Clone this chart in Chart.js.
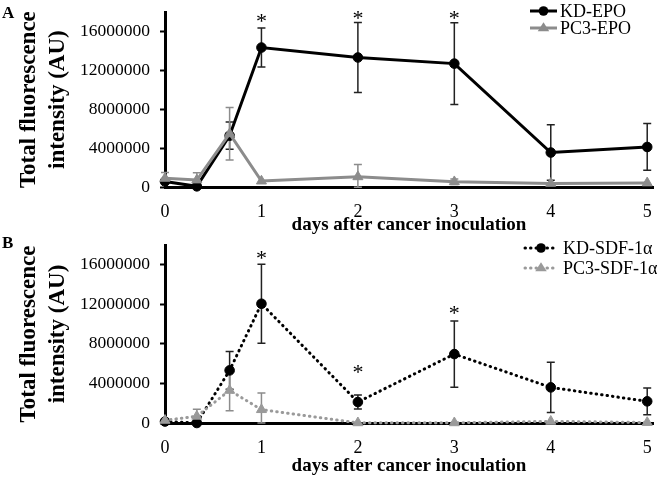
<!DOCTYPE html>
<html><head><meta charset="utf-8">
<script src="https://cdn.jsdelivr.net/npm/chart.js@4.4.0/dist/chart.umd.min.js"></script>
<style>
html,body{margin:0;padding:0;background:#fff;}
#wrap{position:relative;width:663px;height:477px;background:#fff;}
canvas{position:absolute;left:0;}
</style></head><body>
<div id="wrap">
<canvas id="cA" width="663" height="237" style="top:0;width:663px;height:237px"></canvas>
<canvas id="cB" width="663" height="240" style="top:237px;width:663px;height:240px"></canvas>
</div>
<script>
// ---------- data ----------
const days = [0, 0.33, 0.67, 1, 2, 3, 4, 5];
const xTickValues = [0, 1, 2, 3, 4, 5];
const yTickValues = [0, 4000000, 8000000, 12000000, 16000000];
const panelLabels = ['A', 'B'];
const xTitle = 'days after cancer inoculation';
const yTitle = ['Total fluorescence', 'intensity (AU)'];

const namesA = ['KD-EPO', 'PC3-EPO'];
const kdEpo     = [600000, 100000, 5300000, 14350000, 13330000, 12700000, 3570000, 4140000];
const kdEpoErr  = [0, 0, 1400000, 2000000, 3600000, 4200000, 2850000, 2400000];
const pc3Epo    = [920000, 750000, 5500000, 640000, 1080000, 570000, 400000, 450000];
const pc3EpoErr = [600000, 750000, 2700000, 0, 1270000, 280000, 0, 0];
const starsAx = [1, 2, 3];
const starsAy = [17400000, 17750000, 17750000];

const namesB = ['KD-SDF-1\u03b1', 'PC3-SDF-1\u03b1'];
const kdSdf     = [150000, 0, 5320000, 12060000, 2120000, 6970000, 3600000, 2190000];
const kdSdfErr  = [0, 0, 1900000, 4000000, 700000, 3350000, 2550000, 1350000];
const pc3Sdf    = [270000, 680000, 3300000, 1350000, 20000, 20000, 170000, 50000];
const pc3SdfErr = [0, 700000, 2050000, 1680000, 0, 0, 0, 0];
const starsBx = [1, 2, 3];
const starsBy = [17000000, 5500000, 11500000];

// ---------- styling ----------
const SERIF = "'Liberation Serif','Times New Roman',serif";
const GRAY = '#8c8c8c';
const GRAY2 = '#9a9a9a';

function pts(xs, ys) { return xs.map((x, i) => ({x: x, y: ys[i]})); }

function drawMarker(ctx, style, r, x, y) {
  ctx.beginPath();
  if (style === 'circle') {
    ctx.arc(x, y, r, 0, Math.PI * 2);
  } else {
    ctx.moveTo(x, y - r);
    ctx.lineTo(x + r * 0.866 * 1.15, y + r * 0.5 * 1.1);
    ctx.lineTo(x - r * 0.866 * 1.15, y + r * 0.5 * 1.1);
    ctx.closePath();
  }
  ctx.fill();
}

function makePlugin(cfg) {
  return {
    id: 'decor' + cfg.label,
    beforeDatasetsDraw(chart) {
      const ctx = chart.ctx, xs = chart.scales.x, ys = chart.scales.y;
      ctx.save();
      cfg.errors.forEach((errArr, di) => {
        const ds = chart.data.datasets[di];
        ctx.strokeStyle = cfg.errColors[di];
        ctx.lineWidth = 1.5;
        ctx.setLineDash([]);
        ds.data.forEach((p, i) => {
          const e = errArr[i];
          if (!e) return;
          const px = xs.getPixelForValue(p.x);
          const t = ys.getPixelForValue(p.y + e);
          const b = ys.getPixelForValue(Math.max(p.y - e, 0));
          ctx.beginPath();
          ctx.moveTo(px, t); ctx.lineTo(px, b);
          ctx.moveTo(px - 4, t); ctx.lineTo(px + 4, t);
          ctx.moveTo(px - 4, b); ctx.lineTo(px + 4, b);
          ctx.stroke();
        });
      });
      ctx.restore();
    },
    afterDraw(chart) {
      const ctx = chart.ctx, xs = chart.scales.x, ys = chart.scales.y;
      ctx.save();
      // asterisks
      ctx.fillStyle = '#000';
      ctx.font = '22px ' + SERIF;
      ctx.textAlign = 'center';
      ctx.textBaseline = 'alphabetic';
      cfg.starsX.forEach((sx, i) => {
        ctx.fillText('*', xs.getPixelForValue(sx), ys.getPixelForValue(cfg.starsY[i]) + 10.5);
      });
      // legend
      cfg.names.forEach((name, i) => {
        const ds = chart.data.datasets[i];
        const y = cfg.legendRows[i];
        const lx = cfg.legendX;
        ctx.strokeStyle = ds.borderColor;
        ctx.lineWidth = 3;
        ctx.setLineDash(ds.borderDash || []);
        ctx.lineCap = ds.borderCapStyle || 'butt';
        ctx.beginPath();
        ctx.moveTo(lx, y); ctx.lineTo(lx + cfg.legendLen, y);
        ctx.stroke();
        ctx.setLineDash([]);
        ctx.fillStyle = ds.pointBackgroundColor;
        drawMarker(ctx, ds.pointStyle, ds.pointRadius, lx + cfg.legendLen / 2, y);
        ctx.fillStyle = '#000';
        ctx.font = '18px ' + SERIF;
        ctx.textAlign = 'left';
        ctx.textBaseline = 'middle';
        ctx.fillText(name, lx + cfg.legendLen + cfg.legendGap, y + 1);
      });
      // panel label
      ctx.font = 'bold 17px ' + SERIF;
      ctx.textAlign = 'left';
      ctx.textBaseline = 'alphabetic';
      ctx.fillStyle = '#000';
      ctx.fillText(cfg.label, 2, cfg.labelY);
      ctx.restore();
    }
  };
}

function makeChart(canvasId, cfg) {
  const ctx = document.getElementById(canvasId).getContext('2d');
  const mk = (label, ys, color, style, radius, dash, order) => ({
    label: label,
    data: pts(days, ys),
    borderColor: color,
    backgroundColor: color,
    pointBackgroundColor: color,
    pointBorderColor: color,
    pointBorderWidth: 1,
    pointStyle: style,
    pointRadius: radius,
    borderWidth: 3,
    borderDash: dash,
    borderCapStyle: dash.length ? 'round' : 'butt',
    tension: 0,
    clip: false,
    order: order
  });
  return new Chart(ctx, {
    type: 'line',
    data: {
      datasets: [
        mk(cfg.names[0], cfg.series[0], '#000', 'circle', 4.8, cfg.dash, 1),
        mk(cfg.names[1], cfg.series[1], cfg.gray, 'triangle', 5.8, cfg.dash, 0)
      ]
    },
    options: {
      responsive: false,
      animation: false,
      devicePixelRatio: 1,
      layout: {padding: {left: 0, right: 10, top: cfg.top, bottom: 0}},
      plugins: {legend: {display: false}, tooltip: {enabled: false}},
      scales: {
        x: {
          type: 'linear', min: 0, max: 5.06,
          afterBuildTicks: s => { s.ticks = xTickValues.map(v => ({value: v})); },
          afterFit: s => { s.height = cfg.xHeight; s.paddingLeft = 0; s.paddingRight = 0; },
          grid: {display: false, drawTicks: false},
          border: {display: true, color: '#000', width: 3},
          ticks: {color: '#000', font: {family: SERIF, size: 18}, padding: cfg.xTickPad, maxRotation: 0,
                  callback: v => String(v)},
          title: {display: true, text: xTitle, color: '#000',
                  font: {family: SERIF, size: 19, weight: 'bold', lineHeight: 1.2},
                  padding: {top: 0, bottom: cfg.xTitlePad}}
        },
        y: {
          type: 'linear', min: 0, max: 18000000,
          afterBuildTicks: s => { s.ticks = yTickValues.map(v => ({value: v})); },
          afterFit: s => { s.width = 165; s.paddingTop = 0; s.paddingBottom = 0; },
          grid: {display: true, drawOnChartArea: false, drawTicks: true, tickLength: 5,
                 tickWidth: 2, tickColor: '#000', color: '#000'},
          border: {display: true, color: '#000', width: 3},
          ticks: {color: '#000', font: {family: SERIF, size: 17.5}, padding: 10,
                  callback: v => String(v)},
          title: {display: true, text: yTitle, color: '#000',
                  font: {family: SERIF, size: 23, weight: 'bold', lineHeight: 1.25},
                  padding: {top: 15, bottom: 0}}
        }
      }
    },
    plugins: [makePlugin(cfg)]
  });
}

makeChart('cA', {
  label: panelLabels[0], labelY: 18,
  names: namesA, series: [kdEpo, pc3Epo], errors: [kdEpoErr, pc3EpoErr],
  errColors: ['#222', GRAY], gray: GRAY, dash: [],
  starsX: starsAx, starsY: starsAy,
  top: 12, xHeight: 237 - 187.3, xTickPad: 14, xTitlePad: 1,
  legendX: 530, legendLen: 27, legendGap: 3, legendRows: [11, 28]
});

makeChart('cB', {
  label: panelLabels[1], labelY: 11,
  names: namesB, series: [kdSdf, pc3Sdf], errors: [kdSdfErr, pc3SdfErr],
  errColors: ['#222', GRAY], gray: GRAY2, dash: [0.5, 5],
  starsX: starsBx, starsY: starsBy,
  top: 8, xHeight: 240 - 186, xTickPad: 14, xTitlePad: 0,
  legendX: 525, legendLen: 32, legendGap: 6, legendRows: [11, 31]
});
</script>
</body></html>
